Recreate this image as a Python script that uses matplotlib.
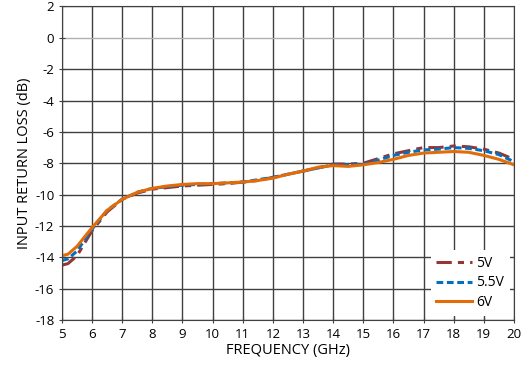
import matplotlib
matplotlib.use("Agg")
import matplotlib.pyplot as plt
import numpy as np

plt.rcParams['font.family'] = ['Open Sans', 'DejaVu Sans']
plt.rcParams['axes.unicode_minus'] = False

freq = [5.0, 5.2, 5.5, 6.0, 6.5, 7.0, 7.5, 8.0, 8.5, 9.0, 9.5, 10.0, 10.5, 11.0,
        11.5, 12.0, 12.5, 13.0, 13.5, 14.0, 14.5, 15.0, 15.5, 16.0, 16.5, 17.0,
        17.5, 18.0, 18.5, 19.0, 19.5, 20.0]
rl_5v = [-14.5, -14.4, -13.9, -12.3, -11.1, -10.3, -9.9, -9.65, -9.55, -9.45, -9.4,
         -9.35, -9.3, -9.2, -9.1, -8.9, -8.7, -8.5, -8.3, -8.05, -8.05, -8.0, -7.7,
         -7.4, -7.2, -7.0, -7.0, -6.9, -6.95, -7.1, -7.35, -7.75]
rl_55v = [-14.2, -14.1, -13.6, -12.2, -11.0, -10.3, -9.85, -9.6, -9.5, -9.4, -9.35,
          -9.3, -9.25, -9.2, -9.05, -8.9, -8.7, -8.5, -8.3, -8.1, -8.1, -8.05, -7.8,
          -7.5, -7.3, -7.15, -7.1, -7.0, -7.05, -7.2, -7.45, -7.9]
rl_6v = [-13.9, -13.8, -13.3, -12.1, -11.0, -10.3, -9.85, -9.6, -9.45, -9.35, -9.3,
         -9.3, -9.25, -9.2, -9.1, -8.95, -8.7, -8.5, -8.25, -8.15, -8.2, -8.1, -7.95,
         -7.75, -7.5, -7.35, -7.3, -7.25, -7.3, -7.5, -7.75, -8.1]

fig = plt.figure(figsize=(5.25, 3.81), dpi=100)
ax = fig.add_axes([0.118, 0.16, 0.861, 0.823])

ax.plot(freq, rl_5v, color='#943634', lw=2.2, dashes=(5, 2, 2, 2), label='5V')
ax.plot(freq, rl_55v, color='#0070C0', lw=2.2, dashes=(2.2, 1.2), label='5.5V')
ax.plot(freq, rl_6v, color='#E36C09', lw=2.2, label='6V')

ax.set_xlim(5, 20)
ax.set_ylim(-18, 2)
ax.set_xticks(range(5, 21))
ax.set_yticks(range(-18, 3, 2))
ax.grid(True, color='#404040', lw=1.0)
for gl, yv in zip(ax.get_ygridlines(), range(-18, 3, 2)):
    if yv == 0:
        gl.set_color('#b0b0b0')
ax.set_axisbelow(True)
for s in ax.spines.values():
    s.set_color('#404040')
ax.tick_params(length=4, color='#404040', labelsize=9.5, direction='inout')
ax.set_xlabel('FREQUENCY (GHz)', fontsize=10.5, labelpad=2)
ax.set_ylabel('INPUT RETURN LOSS (dB)', fontsize=10.5, labelpad=2)

leg = ax.legend(loc='lower right', frameon=True, fontsize=10, handlelength=2.6,
                handletextpad=0.3, labelspacing=0.35, borderaxespad=0.3)
leg.get_frame().set_edgecolor('none')
leg.get_frame().set_facecolor('white')
leg.get_frame().set_alpha(1)

fig.savefig('out.png', dpi=100)
